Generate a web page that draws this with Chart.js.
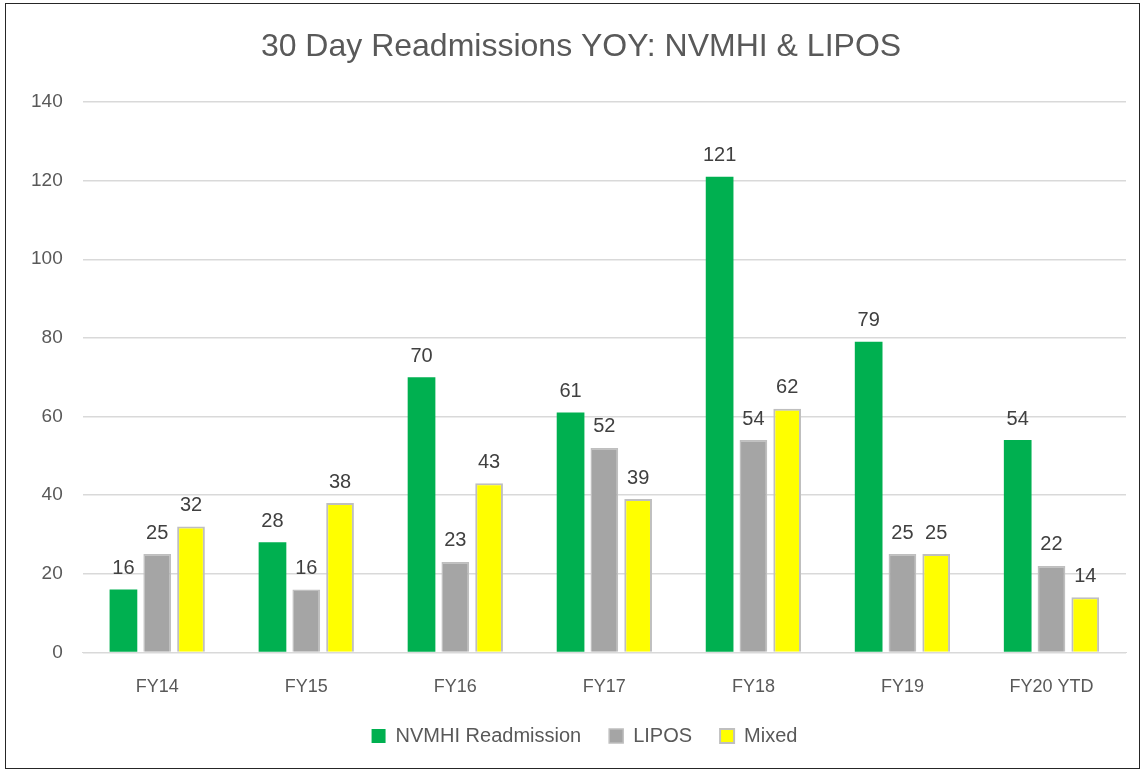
<!DOCTYPE html>
<html><head><meta charset="utf-8">
<script src="https://cdn.jsdelivr.net/npm/chart.js@4.4.0/dist/chart.umd.min.js"></script>
<style>
html,body{margin:0;padding:0;background:#fff;}
#frame{position:absolute;left:5px;top:3px;width:1135px;height:766px;border:1px solid #262626;box-sizing:border-box;}
#wrap{position:absolute;left:0;top:0;width:1133px;height:764px;}
</style></head><body>
<div id="frame"><div id="wrap"><canvas id="c"></canvas></div></div>
<script>
const titleText = "30 Day Readmissions YOY: NVMHI & LIPOS";
const categories = ["FY14","FY15","FY16","FY17","FY18","FY19","FY20 YTD"];
const nvmhi = [16,28,70,61,121,79,54];
const lipos = [25,16,23,52,54,25,22];
const mixed = [32,38,43,39,62,25,14];
const yTicks = [0,20,40,60,80,100,120,140];
const FONT = "'Liberation Sans', Arial, sans-serif";

const SHRINK = 18, LIFT = 16, SHIFT_X = 16;

const labelPlugin = {
  id:'vals',
  afterLayout(chart){
    const l = chart.legend;
    if (l) {
      l.top -= LIFT; l.bottom = l.top + l.height + SHRINK; l.height += SHRINK;
      l.left += SHIFT_X; l.right += SHIFT_X;
    }
  },
  beforeDraw(chart){
    const ctx = chart.ctx;
    ctx.save();
    ctx.font = "32px " + FONT;
    ctx.fillStyle = "#595959";
    ctx.textAlign = "center";
    ctx.textBaseline = "middle";
    ctx.fillText(titleText, 575, 43);
    ctx.restore();
  },
  afterDatasetsDraw(chart){
    const ctx = chart.ctx;
    ctx.save();
    ctx.font = "20px " + FONT;
    ctx.fillStyle = "#404040";
    ctx.textAlign = "center";
    ctx.textBaseline = "bottom";
    chart.data.datasets.forEach((ds,i)=>{
      const meta = chart.getDatasetMeta(i);
      meta.data.forEach((bar,j)=>{
        ctx.fillText(String(ds.data[j]), bar.x, bar.y - 11);
      });
    });
    ctx.restore();
  }
};

const chart = new Chart(document.getElementById('c'),{
  type:'bar',
  data:{
    labels:categories,
    datasets:[
      {label:"NVMHI Readmission",data:nvmhi,backgroundColor:"#00B050",borderColor:"#00B050",borderWidth:0},
      {label:"LIPOS",data:lipos,backgroundColor:"#A5A5A5",borderColor:"#BFBFBF",borderWidth:1.5},
      {label:"Mixed",data:mixed,backgroundColor:"#FFFF00",borderColor:"#BFBFBF",borderWidth:2}
    ]
  },
  options:{
    responsive:true,maintainAspectRatio:false,animation:false,
    layout:{padding:{left:5,right:13,top:98,bottom:14}},
    datasets:{bar:{barPercentage:0.82,categoryPercentage:0.68}},
    plugins:{
      title:{display:false},
      legend:{position:'bottom',labels:{color:"#595959",font:{family:FONT,size:20},boxWidth:14,boxHeight:14,padding:28}},
      tooltip:{enabled:false}
    },
    scales:{
      x:{grid:{display:false},border:{color:"#D9D9D9"},ticks:{color:"#595959",font:{family:FONT,size:18},padding:16}},
      y:{min:0,max:140,afterBuildTicks(s){s.ticks=yTicks.map(v=>({value:v}));},
        grid:{color:"#D9D9D9",lineWidth:1.5,drawTicks:false},border:{display:false},
        ticks:{color:"#595959",font:{family:FONT,size:19},padding:20}}
    }
  },
  plugins:[{
    id:'legendFit',
    afterInit(chart){
      const l = chart.legend;
      if (!l) return;
      const origFit = l.fit;
      l.fit = function(){ origFit.call(this); this.height -= SHRINK; };
    }
  }, labelPlugin]
});
chart.update();
</script>
</body></html>
